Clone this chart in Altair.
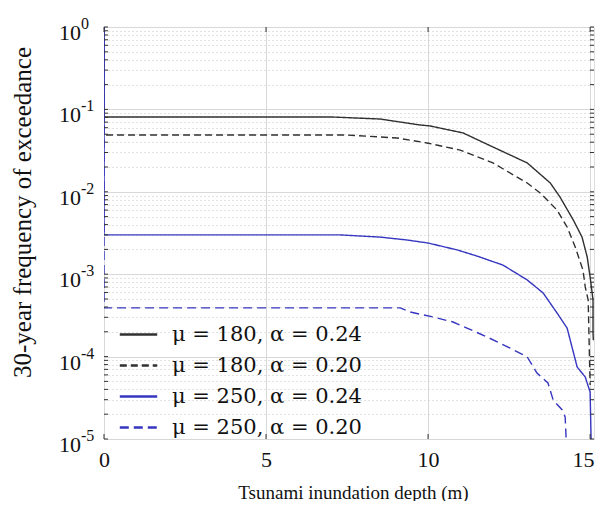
import altair as alt
import pandas as pd

series_names = ["μ = 180, α = 0.24", "μ = 180, α = 0.20",
                "μ = 250, α = 0.24", "μ = 250, α = 0.20"]

s1_x = [0, 0, 7.0, 8.52, 9.75, 10.06, 11.08, 12.0, 13.06, 13.77, 14.07, 14.48, 14.75, 14.91, 15.0, 15.09, 15.09, 15.1]
s1_y = [1, 0.081, 0.081, 0.0764, 0.0647, 0.0630, 0.0518, 0.0350, 0.0224, 0.0128, 0.00865, 0.00455, 0.00283, 0.00162, 0.000925, 0.000486, 0.000193, 0.000158]

s2_x = [0, 0, 7.44, 9.04, 9.97, 10.99, 12.0, 13.06, 13.46, 13.98, 14.29, 14.54, 14.78, 14.85, 14.94, 15.0]
s2_y = [1, 0.049, 0.049, 0.045, 0.0391, 0.0321, 0.0224, 0.0128, 0.00966, 0.00601, 0.00374, 0.00214, 0.00112, 0.000700, 0.000486, 0.0000452]

s3_x = [0, 0, 7.28, 8.52, 9.35, 10.0, 10.9, 11.51, 12.31, 13.06, 13.55, 13.98, 14.29, 14.44, 14.6, 14.85, 15.0, 15.03]
s3_y = [1, 0.003, 0.003, 0.00282, 0.0026, 0.00239, 0.00197, 0.00166, 0.00129, 0.000851, 0.000592, 0.000338, 0.000222, 0.000131, 0.0000748, 0.0000565, 0.0000372, 0.00001]

s4_x = [0, 0, 9.14, 9.44, 10.15, 10.77, 11.2, 11.82, 12.53, 13.06, 13.36, 13.7, 13.86, 14.14, 14.23, 14.26]
s4_y = [1, 0.00039, 0.00039, 0.000348, 0.000303, 0.000263, 0.000222, 0.000173, 0.000127, 0.0000989, 0.0000632, 0.0000479, 0.0000297, 0.0000225, 0.0000185, 0.00001]

x_ticks = [0, 5, 10, 15]
decades = [-5, -4, -3, -2, -1, 0]

rows = []
for name, xs, ys in zip(series_names, [s1_x, s2_x, s3_x, s4_x], [s1_y, s2_y, s3_y, s4_y]):
    for i, (xv, yv) in enumerate(zip(xs, ys)):
        rows.append({"series": name, "x": xv, "y": yv, "i": i})
df = pd.DataFrame(rows)

y_tick_vals = [k * 10.0 ** e for e in decades[:-1] for k in range(1, 10)] + [1.0]
df_yt = pd.DataFrame({"y": y_tick_vals})
df_xt = pd.DataFrame({"x": x_ticks})
df_dec = pd.DataFrame({"y": [10.0 ** e for e in decades],
                       "base": ["10"] * len(decades),
                       "exp": [str(e) for e in decades]})

W, H = 490, 412
FONT = "Liberation Serif"

major = "abs(log(datum.value)/LN10 - round(log(datum.value)/LN10)) < 0.001"
last_x = "datum.value == 15"

x_scale = alt.Scale(domain=[0, 15.12], nice=False, zero=False)
y_scale = alt.Scale(type="log", domain=[1e-5, 1], nice=False)

x_axis = alt.Axis(values=x_ticks, title="Tsunami inundation depth (m)", ticks=False, domain=False,
                  labelFont=FONT, labelFontSize=22, labelColor="#111", labelPadding=10,
                  labelAlign={"condition": {"test": last_x, "value": "right"}, "value": "center"},
                  labelOffset={"condition": {"test": last_x, "value": 4}, "value": 0},
                  titleFont=FONT, titleFontSize=19, titleFontWeight="normal", titleColor="#111",
                  titleX=249, titleY=53, titleBaseline="middle",
                  grid=True, gridColor="#d8d8d8", gridWidth=1)
y_axis = alt.Axis(values=y_tick_vals, title="30-year frequency of exceedance", ticks=False, domain=False,
                  labels=False,
                  titleFont=FONT, titleFontSize=25, titleFontWeight="normal", titleColor="#111",
                  titleX=-82, titleY=185, titleBaseline="middle", titleAngle=270,
                  grid=True,
                  gridDash={"condition": {"test": major, "value": []}, "value": [1, 3]},
                  gridColor={"condition": {"test": major, "value": "#d8d8d8"}, "value": "#c4c4c4"},
                  gridWidth=1)

X = alt.X("x:Q", scale=x_scale, axis=x_axis)
Y = alt.Y("y:Q", scale=y_scale, axis=y_axis)

lines = alt.Chart(df).mark_line(clip=True, strokeWidth=1.4).encode(
    x=X, y=Y,
    color=alt.Color("series:N", sort=series_names,
                    scale=alt.Scale(domain=series_names, range=["#303030", "#303030", "#3636c0", "#3636c0"]),
                    legend=alt.Legend(title=None, orient="none", legendX=14, legendY=287, padding=0,
                                      symbolType="stroke", symbolSize=1400, symbolStrokeWidth=2.6,
                                      labelFont="DejaVu Serif", labelFontSize=21, labelColor="#111",
                                      labelOffset=13, rowPadding=-7, labelLimit=400)),
    strokeDash=alt.StrokeDash("series:N", sort=series_names,
                              scale=alt.Scale(domain=series_names, range=[[1, 0], [7, 4], [1, 0], [9, 5]]),
                              legend=alt.Legend(title=None)),
    order="i:Q",
)

tick_color = "#333"
left_ticks = alt.Chart(df_yt).mark_rule(color=tick_color, strokeWidth=1).encode(
    y=Y, x=alt.value(0), x2=alt.value(4))
right_ticks = alt.Chart(df_yt).mark_rule(color=tick_color, strokeWidth=1).encode(
    y=Y, x=alt.value(W - 4), x2=alt.value(W))
bottom_ticks = alt.Chart(df_xt).mark_rule(color=tick_color, strokeWidth=1).encode(
    x=X, y=alt.value(H - 5), y2=alt.value(H))
top_ticks = alt.Chart(df_xt).mark_rule(color=tick_color, strokeWidth=1).encode(
    x=X, y=alt.value(0), y2=alt.value(5))

ylab_base = alt.Chart(df_dec).mark_text(font=FONT, fontSize=22, color="#111", align="right",
                                         baseline="middle", dy=6).encode(
    y=Y, x=alt.value(-23), text="base:N")
ylab_exp = alt.Chart(df_dec).mark_text(font=FONT, fontSize=16, color="#111", align="left",
                                        baseline="middle", dy=-3).encode(
    y=Y, x=alt.value(-23), text="exp:N")

chart = alt.layer(lines, left_ticks, right_ticks, bottom_ticks, top_ticks, ylab_base, ylab_exp).properties(
    width=W, height=H,
    autosize=alt.AutoSizeParams(type="none"),
    padding={"left": 96, "top": 19, "right": 1, "bottom": 62},
).configure_view(stroke="#333", strokeWidth=1.2).configure(background="white")

chart.save("out.html", embed_options={"renderer": "svg", "actions": False})
